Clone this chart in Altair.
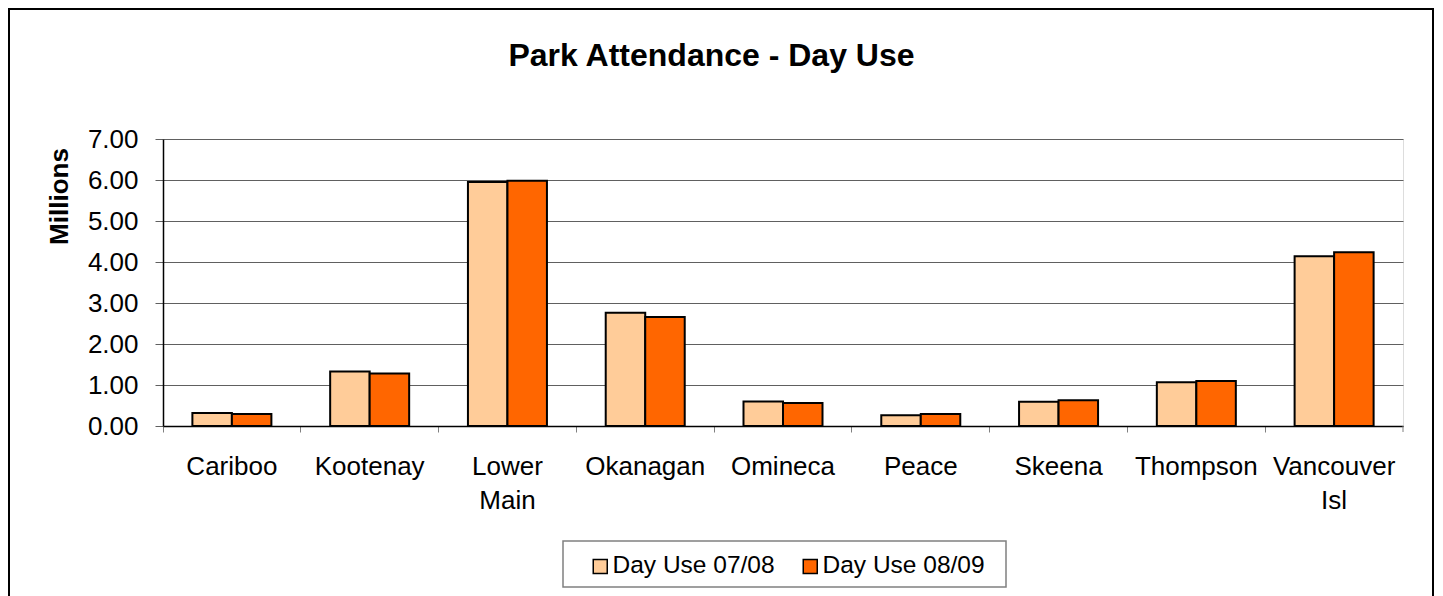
import altair as alt
import pandas as pd

regions = ["Cariboo", "Kootenay", "Lower Main", "Okanagan", "Omineca",
           "Peace", "Skeena", "Thompson", "Vancouver Isl"]
series = ["Day Use 07/08", "Day Use 08/09"]
day_use_0708 = [0.32, 1.33, 5.95, 2.76, 0.60, 0.26, 0.59, 1.07, 4.14]
day_use_0809 = [0.29, 1.28, 5.98, 2.66, 0.56, 0.29, 0.63, 1.10, 4.24]
colors = ["#FFCC99", "#FF6600"]
y_ticks = [0, 1, 2, 3, 4, 5, 6, 7]
title_text = "Park Attendance - Day Use"

FONT = "Liberation Sans, Arial, Helvetica, sans-serif"
W, H = 1240, 287

rows = []
for r, a, b in zip(regions, day_use_0708, day_use_0809):
    rows.append({"region": r, "series": series[0], "value": a})
    rows.append({"region": r, "series": series[1], "value": b})
df = pd.DataFrame(rows)
one = pd.DataFrame({"k": [0]})

bars = alt.Chart(df).mark_bar(stroke="black", strokeWidth=2).encode(
    x=alt.X("region:N", sort=regions,
            scale=alt.Scale(paddingInner=0, paddingOuter=0),
            axis=alt.Axis(title=None, labelAngle=0, labelFont=FONT, labelFontSize=26,
                          labelColor="black", labelPadding=21,
                          labelExpr="split(datum.label, ' ')", labelLineHeight=34,
                          tickColor="#808080", tickSize=6, domainColor="black",
                          domainWidth=1.5, grid=False, bandPosition=0)),
    xOffset=alt.XOffset("series:N", sort=series,
                        scale=alt.Scale(paddingInner=0, paddingOuter=0.744)),
    y=alt.Y("value:Q", scale=alt.Scale(domain=[0, 7], nice=False),
            axis=alt.Axis(values=y_ticks, format=".2f", labelFont=FONT, labelFontSize=26,
                          labelColor="black", labelPadding=17, tickSize=8,
                          tickColor="#606060", gridColor="#606060", grid=True,
                          domainColor="black", domainWidth=1.5,
                          title="Millions", titleFont=FONT, titleFontSize=26,
                          titleFontWeight="bold", titleColor="black",
                          titleX=-96, titleY=57, titleAlign="center",
                          titleBaseline="alphabetic")),
    color=alt.Color("series:N", sort=series,
                    scale=alt.Scale(domain=series, range=colors),
                    legend=alt.Legend(title=None, orient="none", legendX=425, legendY=415,
                                      direction="horizontal", symbolType="square",
                                      symbolSize=196, symbolStrokeColor="black",
                                      symbolStrokeWidth=1.5, labelFont=FONT,
                                      labelFontSize=24.5, labelColor="black",
                                      labelLimit=400,
                                      labelOffset=0, columnPadding=23, padding=0)),
)

border = alt.Chart(one).mark_rect(fill="transparent", stroke="black", strokeWidth=2).encode(
    x=alt.value(-154), x2=alt.value(1270), y=alt.value(-130), y2=alt.value(470))

legend_box = alt.Chart(one).mark_rect(fill="transparent", stroke="#808080", strokeWidth=1.5).encode(
    x=alt.value(400), x2=alt.value(843), y=alt.value(402), y2=alt.value(448))

title = alt.Chart(one).mark_text(text=title_text, font=FONT, fontSize=32, fontWeight="bold",
                                 align="center", baseline="alphabetic", color="black").encode(
    x=alt.value(548.5), y=alt.value(-73))

end_tick = alt.Chart(one).mark_rule(color="#808080", strokeWidth=1).encode(
    x=alt.value(W), y=alt.value(H), y2=alt.value(H + 6))

chart = alt.layer(border, legend_box, title, bars, end_tick).properties(
    width=W, height=H, padding=0
).configure_view(strokeWidth=0).configure(background="white")

chart.save("out.html", embed_options={"renderer": "svg", "actions": False})
